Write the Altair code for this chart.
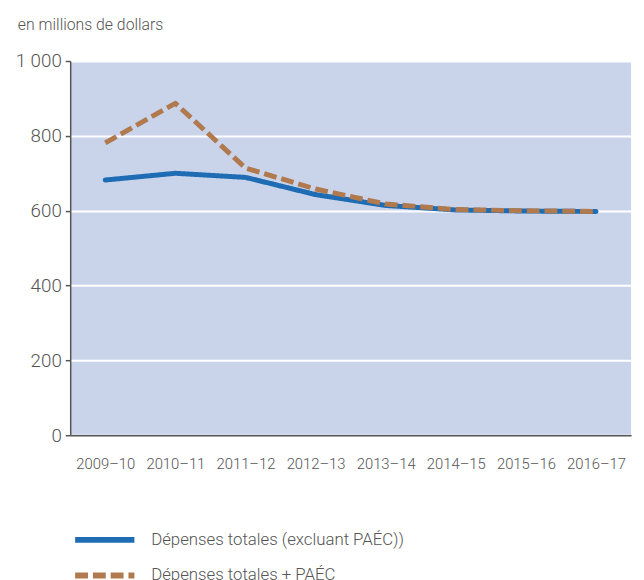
import altair as alt
import pandas as pd

years = ["2009–10", "2010–11", "2011–12", "2012–13", "2013–14", "2014–15", "2015–16", "2016–17"]
series_names = ["Dépenses totales (excluant PAÉC))", "Dépenses totales + PAÉC"]
depenses_excl = [682, 700, 689, 643, 614, 602, 599, 598]
depenses_paec = [781, 887, 714, 658, 618, 603, 600, 598]
y_ticks = [0, 200, 400, 600, 800, 1000]
unit_label = "en millions de dollars"

colors = ["#1e6cb4", "#b07a4e"]
dashes = [[1, 0], [13, 5]]
FONT = "Roboto, sans-serif"
TXT = "#555555"

rows = []
for name, vals in zip(series_names, [depenses_excl, depenses_paec]):
    for yr, v in zip(years, vals):
        rows.append({"annee": yr, "valeur": v, "serie": name})
df = pd.DataFrame(rows)

x_enc = alt.X(
    "annee:N",
    sort=years,
    scale=alt.Scale(type="point", padding=0.5),
    axis=alt.Axis(
        title=None, labelAngle=0, ticks=False, labelFontSize=15, labelColor=TXT,
        labelFont=FONT, labelFontWeight=300, labelPadding=22, labelBaseline="top",
        domainColor="#555555", domainWidth=1.5, grid=False,
    ),
)
y_enc = alt.Y(
    "valeur:Q",
    scale=alt.Scale(domain=[0, 1000], nice=False, zero=True),
    axis=alt.Axis(
        title=None, values=y_ticks, labelFontSize=19, labelColor=TXT, labelFont=FONT,
        labelFontWeight=300,
        labelExpr="replace(format(datum.value, ','), ',', ' ')",
        tickSize=5, tickColor="#555555", tickWidth=1.5, labelPadding=4,
        domainColor="#555555", domainWidth=1.5,
        grid=True, gridColor="#ffffff", gridWidth=2,
    ),
)
legend_cfg = dict(
    title=None, orient="none", legendX=2, legendY=475, padding=0,
    symbolType="stroke", symbolSize=3600, symbolStrokeWidth=6,
    clipHeight=20, rowPadding=16, labelOffset=14,
    labelFontSize=17, labelFont=FONT, labelFontWeight=300, labelColor=TXT, labelLimit=400,
)
color_enc = alt.Color(
    "serie:N",
    scale=alt.Scale(domain=series_names, range=colors),
    legend=alt.Legend(**legend_cfg),
)
dash_enc = alt.StrokeDash(
    "serie:N",
    scale=alt.Scale(domain=series_names, range=dashes),
    legend=alt.Legend(**legend_cfg),
)

base = alt.Chart(df)
blue = base.transform_filter(alt.datum.serie == series_names[0]).mark_line(
    strokeWidth=5, strokeCap="round", strokeJoin="round"
).encode(x=x_enc, y=y_enc, color=color_enc, strokeDash=dash_enc)
brown = base.transform_filter(alt.datum.serie == series_names[1]).mark_line(
    strokeWidth=5, strokeCap="butt", strokeJoin="round"
).encode(x=x_enc, y=y_enc, color=color_enc, strokeDash=dash_enc)

title_txt = alt.Chart(pd.DataFrame({"t": [unit_label]})).mark_text(
    align="left", baseline="alphabetic", fontSize=16, font=FONT, fontWeight=300, color=TXT
).encode(x=alt.value(-53), y=alt.value(-31), text="t:N")

chart = alt.layer(blue, brown, title_txt).properties(
    width=568, height=379,
    autosize=alt.AutoSizeParams(type="none"),
    padding={"left": 63, "top": 50, "right": 5, "bottom": 150},
).configure_view(fill="#c9d3ea", strokeWidth=0)

chart.save("out.html", embed_options={"renderer": "svg", "actions": False})
